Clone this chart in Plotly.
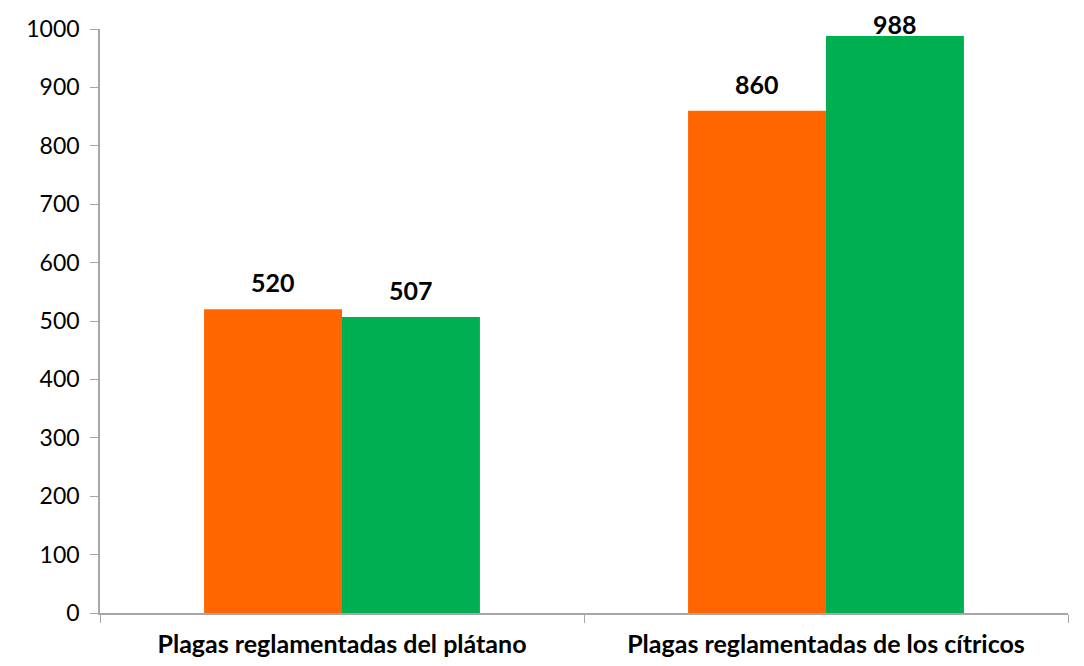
import plotly.graph_objects as go

categories = ["Plagas reglamentadas del plátano", "Plagas reglamentadas de los cítricos"]
series_names = ["Serie 1", "Serie 2"]
series_values = [[520, 860], [507, 988]]
series_colors = ["#FF6600", "#00B050"]
y_ticks = [0, 100, 200, 300, 400, 500, 600, 700, 800, 900, 1000]

FONT = "Lato"
# page body has an 8px margin; compensate so the chart fills the 1084x666 window
W, H = 1076, 658
ML, MR, MT, MB = 92, 16, 21, 53
plot_h = H - MT - MB
y_max = 1000

fig = go.Figure()
for name, vals, col in zip(series_names, series_values, series_colors):
    fig.add_trace(go.Bar(x=categories, y=vals, name=name, marker=dict(color=col, line=dict(width=0))))

offsets = [-69, 69]
for vals, off in zip(series_values, offsets):
    for c, v in zip(categories, vals):
        room = (y_max - v) * plot_h / y_max + 5
        fig.add_annotation(x=c, y=v, text=f"<b>{v}</b>", showarrow=False, xshift=off,
                           yshift=min(27, room), yanchor="middle",
                           font=dict(family=FONT, size=25, color="black"))

fig.update_layout(
    width=W, height=H, barmode="group", bargap=0.43, bargroupgap=0,
    plot_bgcolor="white", paper_bgcolor="white", showlegend=False,
    margin=dict(l=ML, r=MR, t=MT, b=MB, autoexpand=False),
    font=dict(family=FONT, color="black"),
)
fig.update_yaxes(range=[0, y_max], tickvals=y_ticks, showgrid=False, zeroline=False, automargin=False,
                 showline=True, linecolor="#A6A6A6", linewidth=1.5, ticks="outside", ticklen=8,
                 tickcolor="#A6A6A6", tickfont=dict(family=FONT, size=23, color="black"), ticklabelstandoff=6)
fig.update_xaxes(showgrid=False, showline=True, linecolor="#A6A6A6", linewidth=1.5, automargin=False,
                 ticks="outside", ticklen=8, tickcolor="#A6A6A6", tickson="boundaries",
                 tickfont=dict(family=FONT, size=25, color="black"), ticklabelstandoff=8,
                 tickprefix="<b>", ticksuffix="</b>")
fig.write_html("out.html")
